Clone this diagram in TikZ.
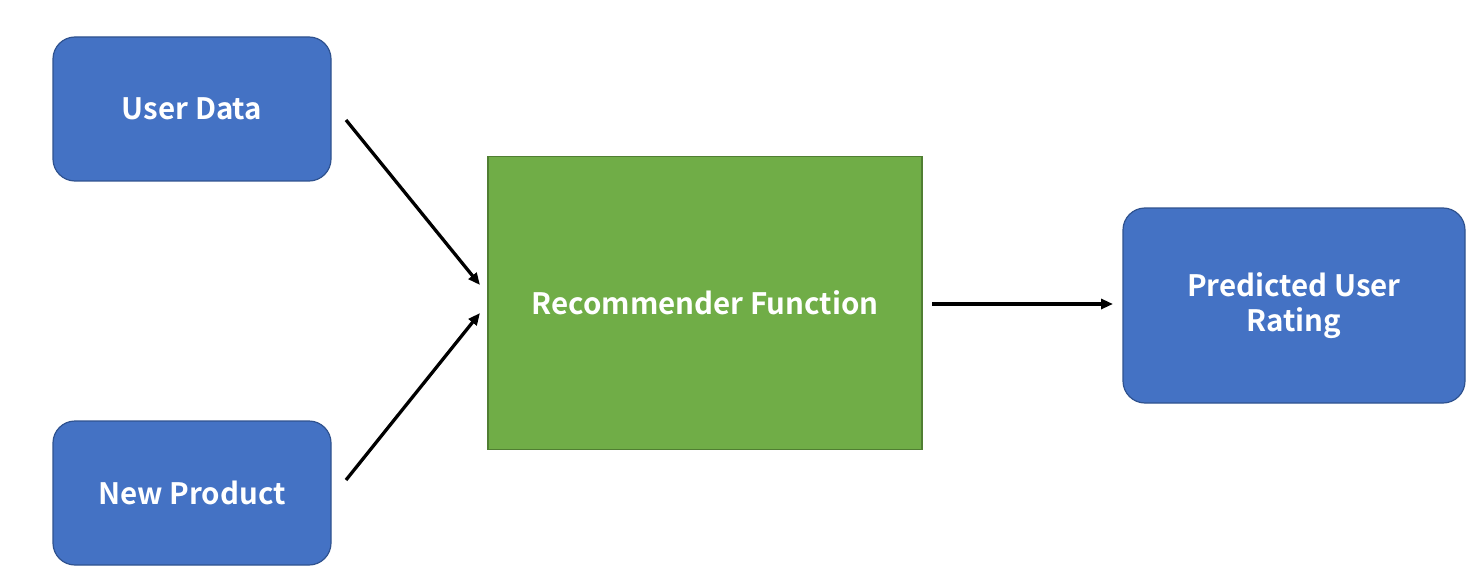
\documentclass[tikz,border=0pt]{standalone}
\usepackage{fontspec}
\setmainfont{Noto Sans CJK JP}[BoldFont={Noto Sans CJK JP Bold}]
\usetikzlibrary{arrows.meta}
\definecolor{bluefill}{HTML}{4472C4}
\definecolor{blueline}{HTML}{2F528F}
\definecolor{greenfill}{HTML}{70AD47}
\definecolor{greenline}{HTML}{507E32}
\tikzset{
  bluebox/.style={draw=blueline, fill=bluefill, line width=1.2pt, rounded corners=22pt, text=white, font=\bfseries\fontsize{29.5}{35}\selectfont, align=center, inner sep=0pt},
  greenbox/.style={draw=greenline, fill=greenfill, line width=1.5pt, text=white, font=\bfseries\fontsize{29.5}{35}\selectfont, align=center, inner sep=0pt},
  conn/.style={line width=3.3pt, -{Triangle[length=12pt,width=10pt]}}
}
\begin{document}
\begin{tikzpicture}[x=1pt,y=-1pt]
\useasboundingbox (0,0) rectangle (1474,580);
\node[bluebox, minimum width=278pt, minimum height=144pt] (ud) at (192,109) {User Data};
\node[bluebox, minimum width=278pt, minimum height=144pt] (np) at (192,493) {New Product};
\node[greenbox, minimum width=434pt, minimum height=293pt] (rf) at (705,303) {Recommender Function};
\node[bluebox, minimum width=342pt, minimum height=195pt] (pr) at (1294,305.5) {Predicted User\\Rating};
\coordinate (a1s) at (346,120);
\coordinate (a1e) at (480,285);
\coordinate (a2s) at (346,480);
\coordinate (a2e) at (480,313);
\coordinate (a3s) at (932,304);
\coordinate (a3e) at (1113,304);
\draw[conn] (a1s) -- (a1e);
\draw[conn] (a2s) -- (a2e);
\draw[conn] (a3s) -- (a3e);
\end{tikzpicture}
\end{document}
